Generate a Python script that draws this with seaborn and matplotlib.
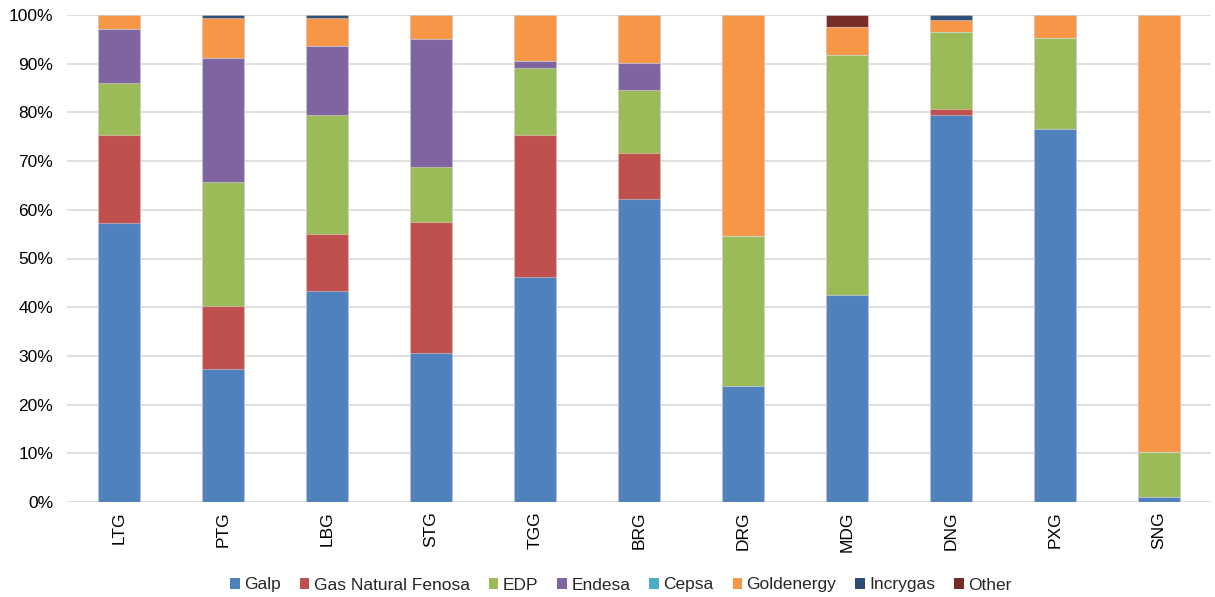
import numpy as np
import pandas as pd
import matplotlib
matplotlib.use("Agg")
import matplotlib.pyplot as plt
from matplotlib.patches import Patch
from matplotlib.ticker import PercentFormatter
import seaborn as sns

categories = ["LTG", "PTG", "LBG", "STG", "TGG", "BRG", "DRG", "MDG", "DNG", "PXG", "SNG"]
galp        = [57.3, 27.3, 43.3, 30.6, 46.2, 62.2, 23.8, 42.5, 79.5, 76.6, 1.0]
gas_natural = [18.1, 12.9, 11.7, 26.8, 29.2, 9.5, 0.0, 0.0, 1.3, 0.0, 0.0]
edp         = [10.6, 25.5, 24.5, 11.4, 13.7, 13.0, 30.8, 49.2, 15.8, 18.6, 9.3]
endesa      = [11.1, 25.5, 14.2, 26.3, 1.4, 5.5, 0.0, 0.0, 0.0, 0.0, 0.0]
cepsa       = [0.0, 0.0, 0.0, 0.0, 0.0, 0.0, 0.0, 0.0, 0.0, 0.0, 0.0]
goldenergy  = [2.9, 8.2, 5.7, 4.9, 9.5, 9.8, 45.4, 5.9, 2.4, 4.8, 89.7]
incrygas    = [0.0, 0.6, 0.6, 0.0, 0.0, 0.0, 0.0, 0.0, 1.0, 0.0, 0.0]
other       = [0.0, 0.0, 0.0, 0.0, 0.0, 0.0, 0.0, 2.4, 0.0, 0.0, 0.0]

series_names = ["Galp", "Gas Natural Fenosa", "EDP", "Endesa", "Cepsa",
                "Goldenergy", "Incrygas", "Other"]
series_vals = [galp, gas_natural, edp, endesa, cepsa, goldenergy, incrygas, other]
colors = ["#4F81BD", "#C0504D", "#9BBB59", "#8064A2", "#4BACC6",
          "#F79646", "#2C4D75", "#772C2A"]

sns.set_theme(style="white")
plt.rcParams['font.family'] = ['Liberation Sans', 'DejaVu Sans']

fig = plt.figure(figsize=(12.15, 5.97), dpi=100)
ax = fig.add_axes([67/1215, 1 - 502/597, (1211 - 67)/1215, (502 - 15)/597])

vals = np.array(series_vals, dtype=float)
totals = vals.sum(axis=0)
norm = vals / totals * 100.0
cum = np.cumsum(norm, axis=0)

# draw cumulative bars from top to bottom so that each layer shows its segment
for i in range(len(series_names) - 1, -1, -1):
    df = pd.DataFrame({"cat": categories, "val": cum[i] / 100.0})
    sns.barplot(data=df, x="cat", y="val", color=colors[i], width=0.4,
                saturation=1, edgecolor=(1, 1, 1, 0.35), linewidth=0.8,
                ax=ax, zorder=3)

ax.set_ylim(0, 1.0)
ax.set_xlim(-0.5, len(categories) - 0.5)
ax.set_yticks(np.arange(0, 1.01, 0.1))
ax.yaxis.set_major_formatter(PercentFormatter(1.0, decimals=0))
ax.grid(axis="y", color="#D9D9D9", linewidth=1.2, zorder=0)
ax.set_axisbelow(True)
for s in ax.spines.values():
    s.set_visible(False)
ax.set_xlabel("")
ax.set_ylabel("")
ax.tick_params(axis="y", length=0, pad=10, labelsize=12.5, labelcolor="#000000")
ax.tick_params(axis="x", length=0, pad=7, labelsize=12.5, labelcolor="#000000")
plt.setp(ax.get_xticklabels(), rotation=90)

handles = [Patch(facecolor=c, edgecolor="none") for c in colors]
fig.legend(handles, series_names, loc="center", bbox_to_anchor=(0.511, 1 - 585/597),
           ncol=8, frameon=False, fontsize=12.5, handlelength=0.55, handleheight=0.55,
           handletextpad=0.25, columnspacing=1.1)

fig.savefig("out.png", dpi=100)
